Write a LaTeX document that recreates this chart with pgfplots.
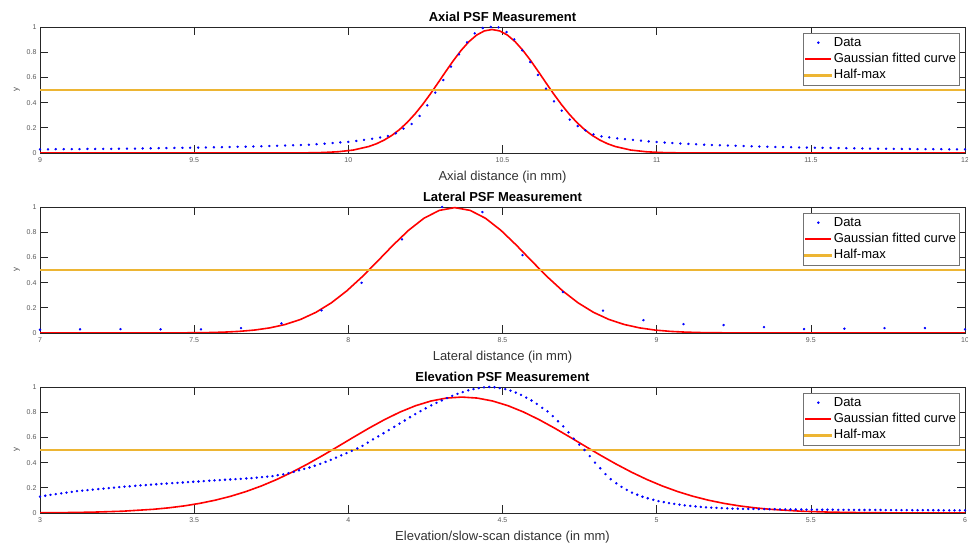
\documentclass[border=0pt]{standalone}
\usepackage{fontspec}
\setmainfont{Liberation Sans}
\usepackage{pgfplots}
\pgfplotsset{compat=1.18}
\definecolor{mlorange}{rgb}{0.93,0.71,0.2}
\definecolor{axgray}{rgb}{0.15,0.15,0.15}
\pgfplotsset{psf/.style={
  scale only axis, width=925pt, height=126pt,
  ymin=0, ymax=1, ytick={0,0.2,0.4,0.6,0.8,1},
  axis line style={axgray, line width=0.6pt},
  tick style={axgray, line width=0.6pt},
  tick align=inside, major tick length=8pt,
  /pgf/number format/assume math mode=true,
  ticklabel style={font=\fontsize{7}{8}\selectfont, text=black!65},
  xticklabel style={yshift=-1pt},
  title style={font=\bfseries\fontsize{13}{15}\selectfont, inner sep=2pt, yshift=-3pt},
  xlabel style={font=\fontsize{13}{15}\selectfont, text=black!80, at={(axis description cs:0.5,0)}, anchor=center, yshift=-24pt},
  ylabel style={font=\fontsize{8}{9}\selectfont, text=black!70, at={(axis description cs:-0.025,0.5)}, anchor=center},
  ylabel={y},
  legend cell align=left,
  legend style={at={(rel axis cs:0.9935,0.952)}, anchor=north east, draw=black!55,
    font=\fontsize{13}{15}\selectfont, inner sep=1.2pt, row sep=0pt,
    nodes={inner sep=1.6pt, text height=10pt, text depth=3.2pt}},
  legend image code/.code={\draw[mark repeat=2,mark phase=2,#1] plot coordinates {(0pt,0pt) (13pt,0pt) (26pt,0pt)};},
}}
\pgfplotsset{
  datast/.style={only marks, mark=*, mark size=1pt, color=blue, draw=blue, fill=blue},
  fitst/.style={no marks, color=red, line width=1.6pt},
  halfst/.style={no marks, color=mlorange, draw=mlorange, line width=1.8pt},
  halfleg/.style={legend image code/.code={\fill[mlorange] (0pt,-0.75pt) rectangle (26pt,0.75pt);}},
}
\begin{document}
\begin{tikzpicture}[x=1pt,y=1pt]
\path[use as bounding box] (0,0) rectangle (968,545);
% ---------------- Axial ----------------
\begin{axis}[psf, at={(40pt,392pt)}, anchor=south west,
  xmin=9, xmax=12, xtick={9,9.5,10,10.5,11,11.5,12},
  title={Axial PSF Measurement}, xlabel={Axial distance (in mm)}]
\addplot[datast] coordinates {(9.000,0.029)(9.026,0.029)(9.051,0.030)(9.077,0.030)(9.103,0.031)(9.128,0.031)(9.154,0.032)(9.179,0.032)(9.205,0.033)(9.231,0.033)(9.256,0.034)(9.282,0.035)(9.308,0.035)(9.333,0.036)(9.359,0.037)(9.385,0.038)(9.410,0.039)(9.436,0.040)(9.462,0.041)(9.487,0.042)(9.513,0.043)(9.538,0.044)(9.564,0.045)(9.590,0.046)(9.615,0.047)(9.641,0.049)(9.667,0.050)(9.692,0.052)(9.718,0.053)(9.744,0.055)(9.769,0.057)(9.795,0.059)(9.821,0.061)(9.846,0.063)(9.872,0.066)(9.897,0.070)(9.923,0.074)(9.949,0.079)(9.974,0.084)(10.000,0.088)(10.026,0.096)(10.051,0.104)(10.077,0.113)(10.103,0.123)(10.128,0.135)(10.154,0.156)(10.179,0.193)(10.205,0.230)(10.231,0.294)(10.256,0.378)(10.282,0.479)(10.308,0.579)(10.333,0.685)(10.359,0.783)(10.385,0.878)(10.410,0.950)(10.436,0.992)(10.462,1.000)(10.487,0.997)(10.513,0.960)(10.538,0.902)(10.564,0.815)(10.590,0.722)(10.615,0.619)(10.641,0.511)(10.667,0.410)(10.692,0.336)(10.718,0.265)(10.744,0.214)(10.769,0.180)(10.795,0.148)(10.821,0.132)(10.846,0.124)(10.872,0.116)(10.897,0.110)(10.923,0.104)(10.949,0.098)(10.974,0.092)(11.000,0.087)(11.026,0.083)(11.051,0.079)(11.077,0.075)(11.103,0.072)(11.128,0.069)(11.154,0.066)(11.179,0.063)(11.205,0.061)(11.231,0.059)(11.256,0.057)(11.282,0.055)(11.308,0.053)(11.333,0.051)(11.359,0.050)(11.385,0.048)(11.410,0.047)(11.436,0.046)(11.462,0.044)(11.487,0.043)(11.513,0.042)(11.538,0.041)(11.564,0.040)(11.590,0.039)(11.615,0.038)(11.641,0.037)(11.667,0.036)(11.692,0.035)(11.718,0.034)(11.744,0.034)(11.769,0.033)(11.795,0.032)(11.821,0.032)(11.846,0.031)(11.872,0.031)(11.897,0.030)(11.923,0.030)(11.949,0.029)(11.974,0.029)(12.000,0.029)};
\addlegendentry{Data}
\addplot[fitst] coordinates {(9.000,0)(9.666,0)(9.766,0.0001)(9.866,0.0013)(9.916,0.0037)(9.966,0.0097)(10.016,0.0233)(10.066,0.0512)(10.091,0.0731)(10.116,0.1022)(10.141,0.1395)(10.166,0.1861)(10.191,0.2427)(10.216,0.3093)(10.241,0.3850)(10.266,0.4684)(10.291,0.5569)(10.316,0.6470)(10.341,0.7345)(10.366,0.8149)(10.391,0.8834)(10.416,0.9358)(10.441,0.9688)(10.466,0.980)(10.491,0.9688)(10.516,0.9358)(10.541,0.8834)(10.566,0.8149)(10.591,0.7345)(10.616,0.6470)(10.641,0.5569)(10.666,0.4684)(10.691,0.3850)(10.716,0.3093)(10.741,0.2427)(10.766,0.1861)(10.791,0.1395)(10.816,0.1022)(10.841,0.0731)(10.866,0.0512)(10.916,0.0233)(10.966,0.0097)(11.016,0.0037)(11.066,0.0013)(11.166,0.0001)(11.266,0)(12.000,0)};
\addlegendentry{Gaussian fitted curve}
\addplot[halfst, halfleg] coordinates {(9,0.5)(12,0.5)};
\addlegendentry{Half-max}
\end{axis}
% ---------------- Lateral ----------------
\begin{axis}[psf, at={(40pt,212pt)}, anchor=south west,
  xmin=7, xmax=10, xtick={7,7.5,8,8.5,9,9.5,10},
  title={Lateral PSF Measurement}, xlabel={Lateral distance (in mm)}]
\addplot[datast] coordinates {(7.000,0.026)(7.130,0.029)(7.261,0.031)(7.391,0.029)(7.522,0.029)(7.652,0.039)(7.783,0.076)(7.913,0.180)(8.043,0.398)(8.174,0.743)(8.304,1.000)(8.435,0.960)(8.565,0.618)(8.696,0.325)(8.826,0.178)(8.957,0.102)(9.087,0.071)(9.217,0.063)(9.348,0.047)(9.478,0.031)(9.609,0.034)(9.739,0.039)(9.870,0.039)(10.000,0.029)};
\addlegendentry{Data}
\addplot[fitst] coordinates {(7.000,0)(7.145,0)(7.345,0.0001)(7.445,0.0007)(7.545,0.0033)(7.595,0.0067)(7.645,0.0127)(7.695,0.0231)(7.745,0.0404)(7.795,0.0674)(7.845,0.1075)(7.895,0.1641)(7.945,0.2395)(7.995,0.3344)(8.045,0.4466)(8.095,0.5704)(8.145,0.6969)(8.195,0.8144)(8.245,0.9103)(8.295,0.9731)(8.345,0.995)(8.395,0.9731)(8.445,0.9103)(8.495,0.8144)(8.545,0.6969)(8.595,0.5704)(8.645,0.4466)(8.695,0.3344)(8.745,0.2395)(8.795,0.1641)(8.845,0.1075)(8.895,0.0674)(8.945,0.0404)(8.995,0.0231)(9.045,0.0127)(9.095,0.0067)(9.145,0.0033)(9.245,0.0007)(9.345,0.0001)(9.545,0)(10.000,0)};
\addlegendentry{Gaussian fitted curve}
\addplot[halfst, halfleg] coordinates {(7,0.5)(10,0.5)};
\addlegendentry{Half-max}
\end{axis}
% ---------------- Elevation ----------------
\begin{axis}[psf, at={(40pt,32pt)}, anchor=south west,
  xmin=3, xmax=6, xtick={3,3.5,4,4.5,5,5.5,6},
  title={Elevation PSF Measurement}, xlabel={Elevation/slow-scan distance (in mm)}]
\addplot[datast] coordinates {(3.000,0.130)(3.017,0.137)(3.034,0.144)(3.051,0.150)(3.069,0.156)(3.086,0.162)(3.103,0.168)(3.120,0.173)(3.137,0.178)(3.154,0.182)(3.171,0.186)(3.189,0.190)(3.206,0.194)(3.223,0.198)(3.240,0.202)(3.257,0.205)(3.274,0.209)(3.291,0.212)(3.309,0.216)(3.326,0.219)(3.343,0.222)(3.360,0.225)(3.377,0.228)(3.394,0.231)(3.411,0.234)(3.429,0.237)(3.446,0.239)(3.463,0.242)(3.480,0.245)(3.497,0.248)(3.514,0.250)(3.531,0.253)(3.549,0.256)(3.566,0.259)(3.583,0.261)(3.600,0.264)(3.617,0.266)(3.634,0.269)(3.651,0.271)(3.669,0.274)(3.686,0.277)(3.703,0.281)(3.720,0.285)(3.737,0.289)(3.754,0.293)(3.771,0.300)(3.789,0.307)(3.806,0.316)(3.823,0.327)(3.840,0.339)(3.857,0.350)(3.874,0.361)(3.891,0.375)(3.909,0.390)(3.926,0.405)(3.943,0.422)(3.960,0.439)(3.977,0.458)(3.994,0.475)(4.011,0.493)(4.029,0.512)(4.046,0.533)(4.063,0.559)(4.080,0.584)(4.097,0.608)(4.114,0.633)(4.131,0.658)(4.149,0.684)(4.166,0.709)(4.183,0.734)(4.200,0.760)(4.217,0.784)(4.234,0.808)(4.251,0.831)(4.269,0.854)(4.286,0.874)(4.303,0.893)(4.320,0.911)(4.337,0.929)(4.354,0.945)(4.371,0.959)(4.389,0.973)(4.406,0.983)(4.423,0.991)(4.440,0.997)(4.457,1.000)(4.474,0.998)(4.491,0.991)(4.509,0.983)(4.526,0.971)(4.543,0.956)(4.560,0.937)(4.577,0.915)(4.594,0.893)(4.611,0.866)(4.629,0.834)(4.646,0.807)(4.663,0.769)(4.680,0.728)(4.697,0.687)(4.714,0.640)(4.731,0.590)(4.749,0.543)(4.766,0.500)(4.783,0.451)(4.800,0.400)(4.817,0.355)(4.834,0.309)(4.851,0.268)(4.869,0.236)(4.886,0.207)(4.903,0.184)(4.920,0.162)(4.937,0.145)(4.954,0.129)(4.971,0.117)(4.989,0.105)(5.006,0.094)(5.023,0.087)(5.040,0.079)(5.057,0.073)(5.074,0.066)(5.091,0.061)(5.109,0.056)(5.126,0.052)(5.143,0.048)(5.160,0.045)(5.177,0.043)(5.194,0.041)(5.211,0.039)(5.229,0.037)(5.246,0.035)(5.263,0.034)(5.280,0.033)(5.297,0.032)(5.314,0.032)(5.331,0.031)(5.349,0.031)(5.366,0.030)(5.383,0.030)(5.400,0.029)(5.417,0.029)(5.434,0.028)(5.451,0.028)(5.469,0.028)(5.486,0.027)(5.503,0.027)(5.520,0.027)(5.537,0.026)(5.554,0.026)(5.571,0.026)(5.589,0.025)(5.606,0.025)(5.623,0.025)(5.640,0.025)(5.657,0.024)(5.674,0.024)(5.691,0.024)(5.709,0.024)(5.726,0.024)(5.743,0.023)(5.760,0.023)(5.777,0.023)(5.794,0.023)(5.811,0.023)(5.829,0.022)(5.846,0.022)(5.863,0.022)(5.880,0.022)(5.897,0.022)(5.914,0.022)(5.931,0.021)(5.949,0.021)(5.966,0.021)(5.983,0.021)(6.000,0.021)};
\addlegendentry{Data}
\addplot[fitst] coordinates {(3.000,0.0015)(3.068,0.0027)(3.168,0.0065)(3.268,0.0142)(3.368,0.0294)(3.418,0.0411)(3.468,0.0565)(3.518,0.0764)(3.568,0.1015)(3.618,0.1325)(3.668,0.1701)(3.718,0.2147)(3.768,0.2662)(3.818,0.3245)(3.868,0.3889)(3.918,0.4580)(3.968,0.5302)(4.018,0.6033)(4.068,0.6748)(4.118,0.7418)(4.168,0.8016)(4.218,0.8514)(4.268,0.8888)(4.318,0.9121)(4.368,0.920)(4.418,0.9121)(4.468,0.8888)(4.518,0.8514)(4.568,0.8016)(4.618,0.7418)(4.668,0.6748)(4.718,0.6033)(4.768,0.5302)(4.818,0.4580)(4.868,0.3889)(4.918,0.3245)(4.968,0.2662)(5.018,0.2147)(5.068,0.1701)(5.118,0.1325)(5.168,0.1015)(5.218,0.0764)(5.268,0.0565)(5.318,0.0411)(5.368,0.0294)(5.468,0.0142)(5.568,0.0065)(5.668,0.0027)(5.768,0.0011)(5.868,0.0004)(6.000,0.0001)};
\addlegendentry{Gaussian fitted curve}
\addplot[halfst, halfleg] coordinates {(3,0.5)(6,0.5)};
\addlegendentry{Half-max}
\end{axis}
\end{tikzpicture}
\end{document}
